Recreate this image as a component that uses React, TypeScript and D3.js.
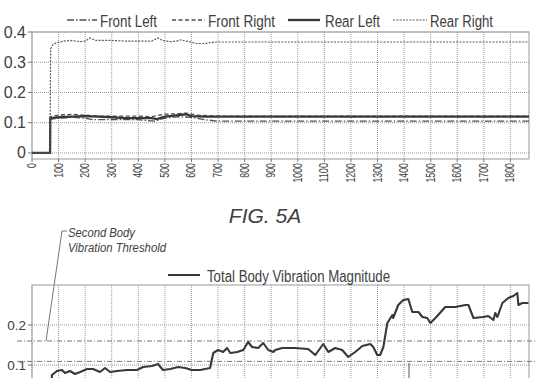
import React from "react";
import * as d3 from "d3";

// ---------- data ----------
const xTicks = d3.range(0, 1801, 100);
const topYTicks = [0, 0.1, 0.2, 0.3, 0.4];
const topYLabels = ["0", "0.1", "0.2", "0.3", "0.4"];
const botYTicks = [0.1, 0.2];
const botYLabels = ["0.1", "0.2"];

const flT = [0, 68, 69, 100, 150, 200, 230, 300, 400, 460, 500, 550, 600, 650, 700, 1870];
const flV = [0, 0, 0.112, 0.115, 0.118, 0.115, 0.11, 0.11, 0.11, 0.105, 0.115, 0.12, 0.118, 0.11, 0.105, 0.105];

const frT = [0, 68, 69, 100, 150, 200, 250, 300, 400, 450, 500, 550, 580, 620, 700, 1870];
const frV = [0, 0, 0.12, 0.125, 0.128, 0.125, 0.122, 0.122, 0.122, 0.12, 0.128, 0.13, 0.132, 0.125, 0.122, 0.122];

const rlT = [0, 68, 69, 100, 150, 200, 250, 300, 350, 400, 450, 470, 500, 550, 580, 600, 650, 1870];
const rlV = [0, 0, 0.115, 0.118, 0.12, 0.122, 0.12, 0.118, 0.115, 0.115, 0.115, 0.112, 0.12, 0.125, 0.128, 0.122, 0.12, 0.12];

const rrT = [0, 68, 70, 80, 100, 120, 150, 180, 200, 218, 240, 300, 350, 400, 450, 474, 490, 520, 545, 560, 590, 620, 650, 680, 700, 1870];
const rrV = [0, 0, 0.345, 0.36, 0.366, 0.37, 0.372, 0.368, 0.37, 0.38, 0.372, 0.372, 0.37, 0.37, 0.37, 0.38, 0.372, 0.368, 0.37, 0.374, 0.368, 0.362, 0.362, 0.366, 0.367, 0.367];

const tbT = [0, 70, 75, 94, 113, 124, 143, 162, 181, 207, 230, 256, 275, 294, 320, 358, 395, 418, 452, 474, 493, 520, 550, 576, 602, 633, 670, 682, 700, 719, 734, 746, 772, 795, 813, 828, 851, 870, 889, 908, 915, 941, 990, 1039, 1066, 1096, 1115, 1141, 1167, 1190, 1216, 1243, 1273, 1284, 1299, 1310, 1322, 1337, 1356, 1359, 1378, 1397, 1416, 1431, 1454, 1469, 1487, 1499, 1518, 1555, 1593, 1631, 1642, 1661, 1698, 1717, 1736, 1743, 1751, 1770, 1792, 1811, 1826, 1830, 1845, 1868];
const tbV = [0, 0, 0.075, 0.085, 0.0875, 0.08, 0.085, 0.0775, 0.0825, 0.09, 0.09, 0.0825, 0.0925, 0.0825, 0.085, 0.0875, 0.0875, 0.095, 0.0975, 0.1025, 0.0875, 0.09, 0.095, 0.0925, 0.0875, 0.0875, 0.0925, 0.13, 0.1375, 0.1325, 0.1425, 0.13, 0.1325, 0.1375, 0.1575, 0.145, 0.1425, 0.155, 0.1375, 0.1325, 0.1375, 0.1425, 0.1425, 0.14, 0.125, 0.1525, 0.1325, 0.1425, 0.1375, 0.12, 0.1325, 0.1475, 0.1525, 0.145, 0.125, 0.125, 0.145, 0.205, 0.225, 0.2175, 0.25, 0.2625, 0.265, 0.2325, 0.2325, 0.22, 0.2175, 0.205, 0.2175, 0.245, 0.245, 0.25, 0.25, 0.2175, 0.22, 0.2225, 0.2125, 0.23, 0.22, 0.255, 0.2675, 0.2725, 0.28, 0.25, 0.255, 0.255];

const thresholds = [0.16, 0.109];

const topLegend = ["Front Left", "Front Right", "Rear Left", "Rear Right"];
const botLegend = "Total Body Vibration Magnitude";
const figLabel = "FIG. 5A";
const noteLines = ["Second Body", "Vibration Threshold"];

// ---------- layout ----------
const L = 32, R = 529;
const TT = 32, TB = 159;
const BT = 285, BB = 405;

const x = d3.scaleLinear().domain([0, 1870]).range([L, R]);
const yTop = d3.scaleLinear().domain([-0.02, 0.4]).range([TB, TT]);
const yBot = d3.scaleLinear().domain([0, 0.3]).range([BB, BT]);

const zip = (t: number[], v: number[]) => t.map((d, i) => [d, v[i]] as [number, number]);
const lineTop = d3.line<[number, number]>().x(d => x(d[0])).y(d => yTop(d[1]));
const lineBot = d3.line<[number, number]>().x(d => x(d[0])).y(d => yBot(d[1]));

const styles = [
  { dash: "7,2,1.5,2", w: 1.3, c: "#505050" },
  { dash: "4,2.5", w: 1.3, c: "#505050" },
  { dash: "", w: 2.3, c: "#383838" },
  { dash: "2,1.3", w: 1.2, c: "#5a5a5a" },
];
const series = [zip(flT, flV), zip(frT, frV), zip(rlT, rlV), zip(rrT, rrV)];
const legendSample = [[67, 97], [172, 205], [288, 320], [393, 427]];
const legendText = [[100, 57], [208, 67], [325, 55], [430, 63]];

const FONT = "'Liberation Sans', Arial, sans-serif";
const GRID = "#999";

export default function App() {
  return (
    <svg width={550} height={378} style={{ position: "absolute", left: 0, top: 0, background: "#fff" }} fontFamily={FONT}>
      <defs>
        <clipPath id="ct"><rect x={L} y={TT} width={R - L} height={TB - TT} /></clipPath>
        <clipPath id="cb"><rect x={L} y={BT} width={R - L} height={BB - BT} /></clipPath>
      </defs>

      {/* ---------- top chart ---------- */}
      {xTicks.map(t => (
        <line key={"tv" + t} x1={x(t)} x2={x(t)} y1={TT} y2={TB} stroke={GRID} strokeDasharray="1,1" />
      ))}
      {topYTicks.map(t => (
        <line key={"th" + t} x1={L} x2={R} y1={yTop(t)} y2={yTop(t)} stroke={GRID} strokeDasharray="1,1" />
      ))}
      <rect x={L} y={TT} width={R - L} height={TB - TT} fill="none" stroke="#999" />
      {topYTicks.map((t, i) => (
        <g key={"ty" + t}>
          <line x1={L - 4} x2={L} y1={yTop(t)} y2={yTop(t)} stroke="#777" />
          <text x={L - 6} y={yTop(t)} textAnchor="end" dominantBaseline="central" fontSize={16} fill="#404040">{topYLabels[i]}</text>
        </g>
      ))}
      {xTicks.map(t => (
        <g key={"tx" + t}>
          <line x1={x(t)} x2={x(t)} y1={TB} y2={TB + 3} stroke="#777" />
          <text transform={`translate(${x(t)},${TB + 4}) rotate(-90)`} textAnchor="end" dominantBaseline="central"
            fontSize={12} fill="#404040" textLength={String(t).length * 4.9} lengthAdjust="spacingAndGlyphs">{t}</text>
        </g>
      ))}
      <g clipPath="url(#ct)">
        {series.map((s, i) => (
          <path key={"s" + i} d={lineTop(s) || ""} fill="none" stroke={styles[i].c} strokeWidth={styles[i].w}
            strokeDasharray={styles[i].dash || undefined} />
        ))}
      </g>
      {topLegend.map((name, i) => (
        <g key={"lg" + i}>
          <line x1={legendSample[i][0]} x2={legendSample[i][1]} y1={20} y2={20} stroke={styles[i].c}
            strokeWidth={styles[i].w} strokeDasharray={styles[i].dash || undefined} />
          <text x={legendText[i][0]} y={26.5} fontSize={16} fill="#404040" textLength={legendText[i][1]} lengthAdjust="spacingAndGlyphs">{name}</text>
        </g>
      ))}

      <text x={265} y={223} textAnchor="middle" fontSize={21} fontStyle="italic" fill="#404040">{figLabel}</text>

      {/* ---------- bottom chart ---------- */}
      {xTicks.map(t => (
        <line key={"bv" + t} x1={x(t)} x2={x(t)} y1={BT} y2={BB} stroke={GRID} strokeDasharray="1,1" />
      ))}
      {botYTicks.map(t => (
        <line key={"bh" + t} x1={L} x2={R} y1={yBot(t)} y2={yBot(t)} stroke={GRID} strokeDasharray="1,1" />
      ))}
      <rect x={L} y={BT} width={R - L} height={BB - BT} fill="none" stroke="#999" />
      {botYTicks.map((t, i) => (
        <g key={"by" + t}>
          <line x1={L - 4} x2={L} y1={yBot(t)} y2={yBot(t)} stroke="#777" />
          <text x={L - 6} y={yBot(t)} textAnchor="end" dominantBaseline="central" fontSize={13.5} fill="#404040">{botYLabels[i]}</text>
        </g>
      ))}
      {thresholds.map(t => (
        <line key={"thr" + t} x1={17} x2={536} y1={yBot(t)} y2={yBot(t)} stroke="#777" strokeWidth={1} strokeDasharray="5,2,1,2" />
      ))}
      <g clipPath="url(#cb)">
        <path d={lineBot(zip(tbT, tbV)) || ""} fill="none" stroke="#383838" strokeWidth={2.1} strokeLinejoin="round" />
      </g>
      <line x1={168} x2={200} y1={275} y2={275} stroke="#383838" strokeWidth={2} />
      <text x={207} y={281.5} fontSize={16} fill="#404040" textLength={183} lengthAdjust="spacingAndGlyphs">{botLegend}</text>

      <path d={`M 67 231 L 62 231 L 46 ${yBot(0.16)}`} fill="none" stroke="#666" strokeWidth={0.9} />
      <text x={68} y={237} fontSize={12} fontStyle="italic" fill="#404040" textLength={67} lengthAdjust="spacingAndGlyphs">{noteLines[0]}</text>
      <text x={68} y={252} fontSize={12} fontStyle="italic" fill="#404040" textLength={98} lengthAdjust="spacingAndGlyphs">{noteLines[1]}</text>
      <line x1={409} x2={409} y1={363} y2={378} stroke="#555" strokeWidth={1} />
    </svg>
  );
}
